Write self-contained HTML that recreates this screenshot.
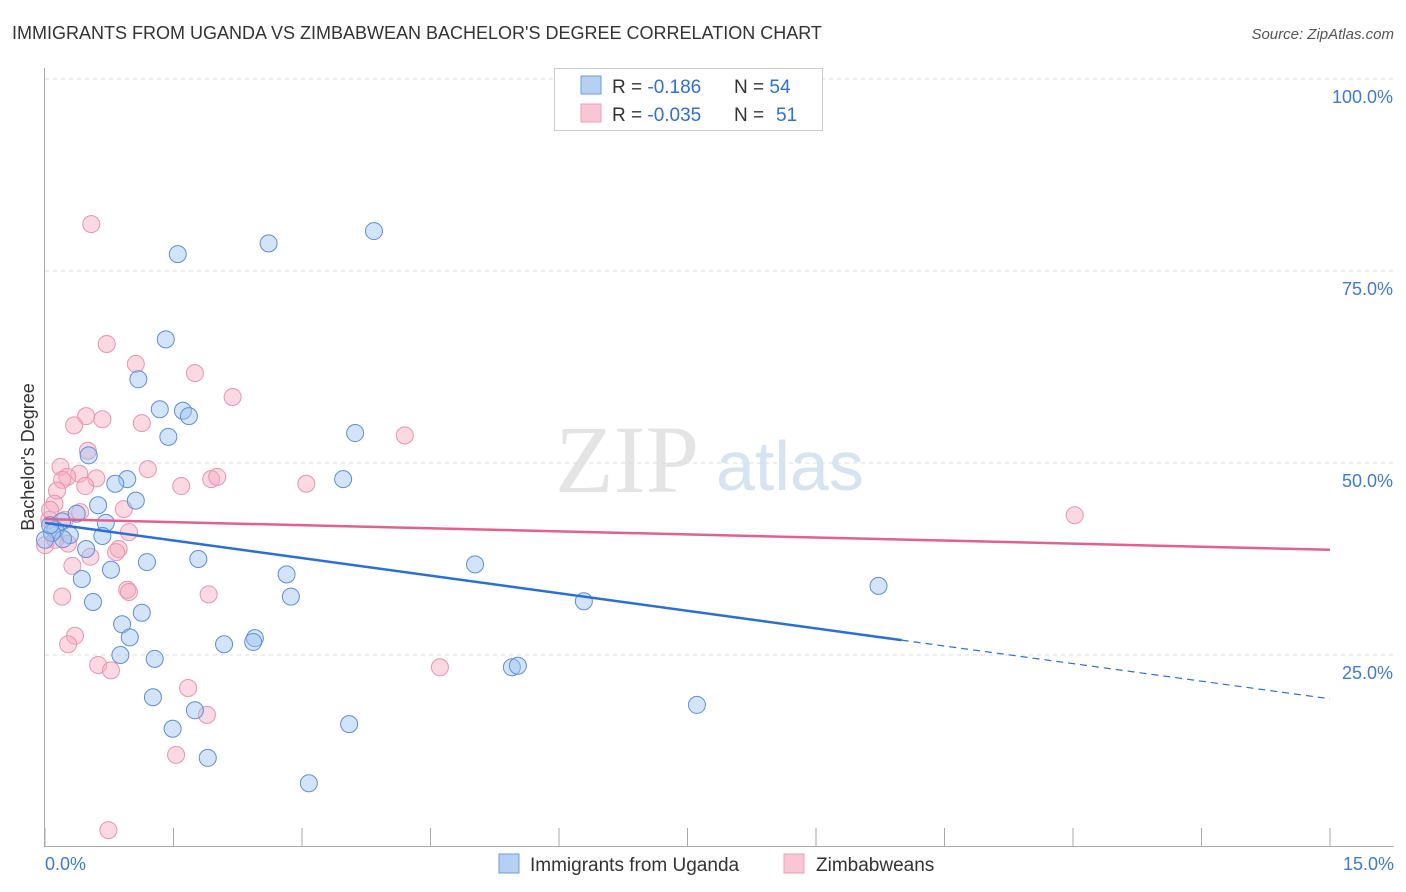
<!DOCTYPE html>
<html><head><meta charset="utf-8"><style>
body{margin:0;background:#fff;font-family:"Liberation Sans",sans-serif;}
svg{display:block}
</style></head><body>
<svg width="1406" height="892" xmlns="http://www.w3.org/2000/svg" id="chart">
<text x="12" y="39" font-size="18" fill="#333">IMMIGRANTS FROM UGANDA VS ZIMBABWEAN BACHELOR'S DEGREE CORRELATION CHART</text>
<text x="1394" y="39" font-size="15" fill="#555" font-style="italic" text-anchor="end">Source: ZipAtlas.com</text>
<g>
<text x="555" y="492" font-size="96" font-family="Liberation Serif,serif" fill="#e4e4e4">ZIP</text>
<text x="716" y="490" font-size="70" fill="#d5e3f3">atlas</text>
</g>
<g id="grid"></g>
<g id="axes"></g>
<g id="points"></g>
<g id="trends"></g>
<g>
<rect x="554.5" y="68.5" width="268" height="62" fill="#fff" stroke="#ccc"/>
<rect x="581" y="76" width="20" height="18" fill="#b5d0f2" stroke="#6c9ee0"/>
<rect x="581" y="104" width="20" height="18" fill="#f8c6d5" stroke="#ee9fb6"/>
<text x="612" y="93" font-size="19" fill="#333">R = <tspan fill="#2f6fd6">-0.186</tspan><tspan x="734">N = </tspan><tspan fill="#2f6fd6">54</tspan></text>
<text x="612" y="121" font-size="19" fill="#333">R = <tspan fill="#2f6fd6">-0.035</tspan><tspan x="734">N = </tspan><tspan fill="#2f6fd6" x="776">51</tspan></text>
</g>
<text transform="translate(34,457) rotate(-90)" font-size="18" fill="#333" text-anchor="middle">Bachelor's Degree</text>
<text x="45" y="870" font-size="18" fill="#3d7ad8">0.0%</text>
<text x="1394" y="870" font-size="18" fill="#3d7ad8" text-anchor="end">15.0%</text>
<g>
<rect x="499" y="854" width="20" height="19" fill="#b5d0f2" stroke="#6c9ee0"/>
<text x="530" y="871" font-size="19" fill="#333">Immigrants from Uganda</text>
<rect x="784" y="854" width="20" height="19" fill="#f8c6d5" stroke="#ee9fb6"/>
<text x="816" y="871" font-size="19" fill="#333">Zimbabweans</text>
</g>
</svg>
<script>
const yTicks=[25,50,75,100];
const yTickLabels=["25.0%","50.0%","75.0%","100.0%"];
const xTicks=[0,1.5,3,4.5,6,7.5,9,10.5,12,13.5,15];
const blueX=[1.55,2.61,3.84,1.41,1.09,1.34,1.61,1.68,1.44,3.62,0.51,0.96,0.82,3.48,1.06,0.62,0.37,0.20,0.71,0.12,0.29,0.67,0.21,0.08,0.48,1.19,1.79,0.77,0.43,2.82,5.02,0.56,2.87,6.29,9.73,1.13,0.90,0.99,2.45,2.43,2.09,0.88,1.28,5.45,5.52,1.26,7.61,1.75,1.49,3.55,1.90,3.08,0.0,0.06];
const blueY=[77.2,78.6,80.2,66.1,60.9,57.0,56.8,56.1,53.4,53.9,51.0,47.9,47.3,47.9,45.1,44.5,43.4,42.4,42.2,41.3,40.6,40.5,40.1,40.9,38.8,37.1,37.5,36.1,34.9,35.5,36.8,31.9,32.6,32.0,34.0,30.5,29.0,27.3,27.2,26.7,26.4,25.0,24.5,23.4,23.6,19.5,18.5,17.8,15.4,16.0,11.6,8.3,40.0,41.9];
const pinkX=[0.54,0.72,1.06,1.75,2.19,0.48,0.67,0.34,1.13,4.20,0.50,0.18,1.20,0.40,0.26,0.60,0.20,0.47,1.59,1.94,2.01,3.05,0.14,0.11,0.41,0.92,12.02,0.05,0.98,0.27,0.86,0.83,0.53,0.32,0.96,0.98,1.91,0.20,0.35,0.27,0.62,0.77,4.61,1.67,1.89,1.53,0.74,0,0.06,0.12,0.23];
const pinkY=[81.1,65.5,62.9,61.7,58.6,56.1,55.7,54.9,55.2,53.6,51.6,49.5,49.2,48.6,48.2,48.0,47.8,47.0,47.0,47.9,48.2,47.3,46.4,44.7,43.6,44.0,43.2,42.6,41.0,39.5,38.8,38.4,37.8,36.6,33.5,33.2,32.9,32.6,27.5,26.4,23.7,23.0,23.4,20.7,17.2,12.0,2.2,39.3,43.9,40.0,42.6];
const blueTrend=[42.2,19.3]; // value at x=0 and x=15
const blueSolidEnd=10.0;
const pinkTrend=[42.7,38.7];
const NS="http://www.w3.org/2000/svg";
const X=v=>45+v*(1330-45)/15;
const Y=v=>847-v*7.68;
function mk(tag,attrs,parent){const e=document.createElementNS(NS,tag);for(const k in attrs)e.setAttribute(k,attrs[k]);document.getElementById(parent).appendChild(e);return e;}
yTicks.forEach((t,i)=>{
 const l=mk('line',{x1:45,x2:1394,y1:Y(t),y2:Y(t),stroke:'#ddd','stroke-dasharray':'4,4'},'grid');
 
 
 const tx=mk('text',{x:1393,y:Y(t)+24,'font-size':18,fill:'#3d7ad8','text-anchor':'end'},'grid');
 tx.textContent=yTickLabels[i];
 
 
});
const ax=mk('line',{x1:44.5,x2:44.5,y1:68,y2:847,stroke:'#aaa'},'axes');


const bx=mk('line',{x1:44,x2:1394,y1:846.5,y2:846.5,stroke:'#aaa'},'axes');


xTicks.forEach(t=>{
 const l=mk('line',{x1:X(t),x2:X(t),y1:828,y2:847,stroke:'#aaa'},'axes');
 
 
});
pinkX.forEach((x,i)=>{
 const c=mk('circle',{cx:X(x),cy:Y(pinkY[i]),r:8.5,fill:'rgba(244,170,193,0.45)',stroke:'#ec93ae','stroke-width':1},'points');
 
 
});
blueX.forEach((x,i)=>{
 const c=mk('circle',{cx:X(x),cy:Y(blueY[i]),r:8.5,fill:'rgba(160,195,240,0.45)',stroke:'#5b8fd9','stroke-width':1},'points');
 
 
});
const bAt=x=>blueTrend[0]+(blueTrend[1]-blueTrend[0])*x/15;
const b1=mk('line',{x1:X(0),y1:Y(bAt(0)),x2:X(blueSolidEnd),y2:Y(bAt(blueSolidEnd)),stroke:'#2a6fd8','stroke-width':2.5},'trends');


const b2=mk('line',{x1:X(blueSolidEnd),y1:Y(bAt(blueSolidEnd)),x2:X(15),y2:Y(bAt(15)),stroke:'#2a6fd8','stroke-width':1.2,'stroke-dasharray':'7,5'},'trends');


const p1=mk('line',{x1:X(0),y1:Y(pinkTrend[0]),x2:X(15),y2:Y(pinkTrend[1]),stroke:'#e5608e','stroke-width':2.5},'trends');


</script>
</body></html>
